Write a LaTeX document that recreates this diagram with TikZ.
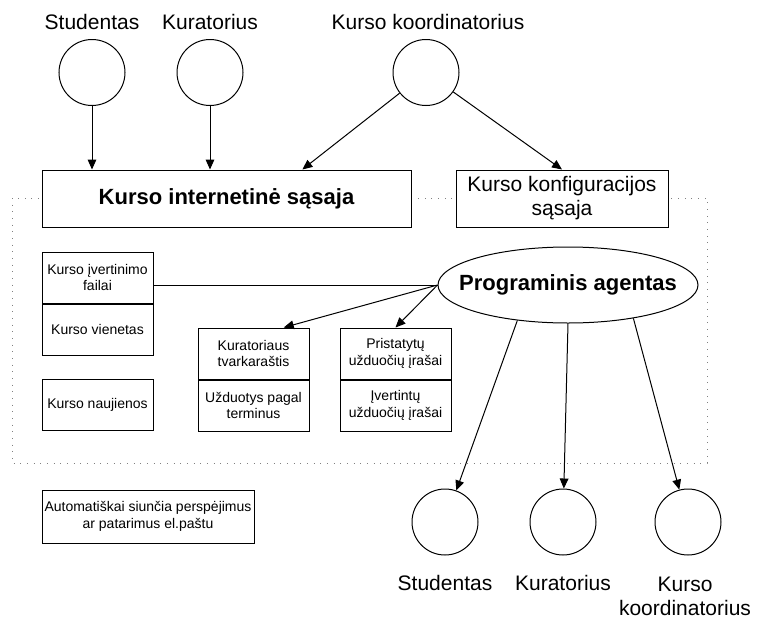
\documentclass[tikz,border=0pt]{standalone}
\usepackage{fontspec}
\setmainfont{Liberation Sans}
\usetikzlibrary{positioning,calc,arrows.meta,shapes.geometric}
\begin{document}
\begin{tikzpicture}[x=0.75pt, y=-0.75pt, line width=0.75pt,
        actor/.style={circle, draw, minimum size=49.5pt, inner sep=0pt},
        actorlbl/.style={font=\fontsize{15.75}{18}\selectfont, align=center, inner sep=0pt},
        bigbox/.style={draw, fill=white, minimum height=42.75pt, align=center, inner sep=2pt},
        smallbox/.style={draw, fill=white, minimum width=83.25pt, minimum height=38.25pt, align=center, inner sep=1pt,
            font=\fontsize{10.5}{12.5}\selectfont},
        arr/.style={-{Triangle[length=7.5pt, width=6.5pt]}}]
        \useasboundingbox (0,0) rectangle (758,618);

        % system boundary
        \draw[gray, line width=0.6pt, dash pattern=on 0.6pt off 4.4pt] (12,198) rectangle (707,463);

        % users at the top
        \node[actor] (stud) at (92,72.5) {};
        \node[actor] (kur) at (210,72.5) {};
        \node[actor] (koord) at (426,72.5) {};
        \node[actorlbl] (studL) at (92,22) {Studentas};
        \node[actorlbl] (kurL) at (210,22) {Kuratorius};
        \node[actorlbl] (koordL) at (428,22) {Kurso koordinatorius};

        % interfaces
        \node[bigbox, minimum width=276.75pt, font=\bfseries\fontsize{16.5}{19}\selectfont] (web) at (226.5,198.5) {Kurso internetinė sąsaja};
        \node[bigbox, minimum width=159pt, font=\fontsize{15.75}{18}\selectfont] (conf) at (562,198.5) {Kurso konfiguracijos\\sąsaja};

        % data stores
        \node[smallbox] (eval) at (97.5,277.5) {Kurso įvertinimo\\failai};
        \node[smallbox, below=0pt of eval] (unit) {Kurso vienetas};
        \node[smallbox] (news) at (97.5,405) {Kurso naujienos};
        \node[smallbox] (sched) at (253.5,353.5) {Kuratoriaus\\tvarkaraštis};
        \node[smallbox, below=0pt of sched] (tasks) {Užduotys pagal\\terminus};
        \node[smallbox] (subm) at (395.5,353.5) {Pristatytų\\užduočių įrašai};
        \node[smallbox, below=0pt of subm] (graded) {Įvertintų\\užduočių įrašai};

        % agent
        \node[ellipse, draw, fill=white, minimum width=195pt, minimum height=57pt, inner xsep=-15pt, inner ysep=0pt,
            font=\bfseries\fontsize{16.5}{19}\selectfont] (agent) at (568,285) {Programinis agentas};

        \node[smallbox, minimum width=159pt, minimum height=39.75pt] (auto) at (148,516.5) {Automatiškai siunčia perspėjimus\\ar patarimus el.paštu};

        % users at the bottom
        \node[actor] (stud2) at (445,522) {};
        \node[actor] (kur2) at (563,522) {};
        \node[actor] (koord2) at (688,522) {};
        \node[actorlbl] (stud2L) at (445,583) {Studentas};
        \node[actorlbl] (kur2L) at (563,583) {Kuratorius};
        \node[actorlbl] (koord2L) at (685,596) {Kurso\\koordinatorius};

        \coordinate (webin) at ($(web.north west)!0.705!(web.north east)$);
        \coordinate (schedin) at ($(sched.north west)!0.77!(sched.north east)$);

        \draw[arr] (stud) -- (stud |- web.north);
        \draw[arr] (kur) -- (kur |- web.north);
        \draw[arr] (koord) -- (webin);
        \draw[arr] (koord) -- (conf.north);

        \draw (agent.west) -- (agent.west -| eval.east);
        \draw[arr] (agent.west) -- (schedin);
        \draw[arr] (agent.west) -- (subm.north);

        \draw[arr] (agent.215) -- (stud2);
        \draw[arr] (agent.south) -- (kur2);
        \draw[arr] (agent.333) -- (koord2);
    \end{tikzpicture}
\end{document}
